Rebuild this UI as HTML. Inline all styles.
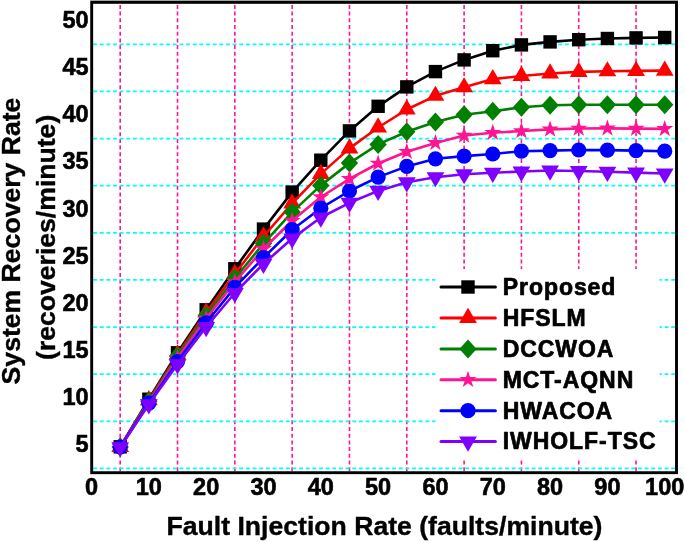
<!DOCTYPE html>
<html lang="en"><head><meta charset="utf-8"><title>System Recovery Rate vs Fault Injection Rate</title>
<style>html,body{margin:0;padding:0;background:#fff}svg{display:block}</style></head>
<body>
<svg width="685" height="542" viewBox="0 0 685 542">
<rect width="685" height="542" fill="#fff"/>
<g stroke="#ff1493" stroke-width="1.6" stroke-dasharray="4 2.7" fill="none">
<path d="M120.2 471.2V4.9"/>
<path d="M177.52 471.2V4.9"/>
<path d="M234.83 471.2V4.9"/>
<path d="M292.15 471.2V4.9"/>
<path d="M349.47 471.2V4.9"/>
<path d="M406.79 471.2V4.9"/>
<path d="M464.11 471.2V4.9"/>
<path d="M521.42 471.2V4.9"/>
<path d="M578.74 471.2V4.9"/>
<path d="M636.06 471.2V4.9"/>
</g>
<g stroke="#00ffff" stroke-width="1.7" stroke-dasharray="3.9 2.745" fill="none">
<path d="M93.1 468.4H675.1"/>
<path d="M93.1 421.28H675.1"/>
<path d="M93.1 374.17H675.1"/>
<path d="M93.1 327.05H675.1"/>
<path d="M93.1 279.94H675.1"/>
<path d="M93.1 232.82H675.1"/>
<path d="M93.1 185.7H675.1"/>
<path d="M93.1 138.59H675.1"/>
<path d="M93.1 91.47H675.1"/>
<path d="M93.1 44.36H675.1"/>
</g>
<rect x="90.2" y="0" width="587.8" height="1" fill="#b4b4b4"/>
<rect x="91.7" y="2.35" width="584.8" height="470.35" fill="none" stroke="#000" stroke-width="2.9"/>
<polyline points="120.2,446.8 148.86,399.2 177.52,352.8 206.18,309.8 234.83,268.8 263.49,229.1 292.15,192.1 320.81,160.2 349.47,130.9 378.13,106.3 406.79,86.9 435.45,71.6 464.11,59.9 492.77,50.7 521.42,44.9 550.08,41.9 578.74,39.7 607.4,38.5 636.06,37.9 664.72,37.5" fill="none" stroke="#000000" stroke-width="2.6" stroke-linejoin="round"/>
<rect x="113.5" y="440.1" width="13.4" height="13.4" fill="#000000"/>
<rect x="142.16" y="392.5" width="13.4" height="13.4" fill="#000000"/>
<rect x="170.82" y="346.1" width="13.4" height="13.4" fill="#000000"/>
<rect x="199.48" y="303.1" width="13.4" height="13.4" fill="#000000"/>
<rect x="228.13" y="262.1" width="13.4" height="13.4" fill="#000000"/>
<rect x="256.79" y="222.4" width="13.4" height="13.4" fill="#000000"/>
<rect x="285.45" y="185.4" width="13.4" height="13.4" fill="#000000"/>
<rect x="314.11" y="153.5" width="13.4" height="13.4" fill="#000000"/>
<rect x="342.77" y="124.2" width="13.4" height="13.4" fill="#000000"/>
<rect x="371.43" y="99.6" width="13.4" height="13.4" fill="#000000"/>
<rect x="400.09" y="80.2" width="13.4" height="13.4" fill="#000000"/>
<rect x="428.75" y="64.9" width="13.4" height="13.4" fill="#000000"/>
<rect x="457.41" y="53.2" width="13.4" height="13.4" fill="#000000"/>
<rect x="486.07" y="44" width="13.4" height="13.4" fill="#000000"/>
<rect x="514.72" y="38.2" width="13.4" height="13.4" fill="#000000"/>
<rect x="543.38" y="35.2" width="13.4" height="13.4" fill="#000000"/>
<rect x="572.04" y="33" width="13.4" height="13.4" fill="#000000"/>
<rect x="600.7" y="31.8" width="13.4" height="13.4" fill="#000000"/>
<rect x="629.36" y="31.2" width="13.4" height="13.4" fill="#000000"/>
<rect x="658.02" y="30.8" width="13.4" height="13.4" fill="#000000"/>
<polyline points="120.2,447 148.86,400.2 177.52,354.5 206.18,312.5 234.83,274 263.49,236.5 292.15,203.4 320.81,173.9 349.47,148.4 378.13,127.5 406.79,109.5 435.45,95.8 464.11,87.3 492.77,79.1 521.42,76 550.08,73.5 578.74,71.9 607.4,71.3 636.06,70.9 664.72,70.6" fill="none" stroke="#ff0000" stroke-width="2.6" stroke-linejoin="round"/>
<polygon points="120.2,436.87 111.3,452.07 129.1,452.07" fill="#ff0000"/>
<polygon points="148.86,390.07 139.96,405.27 157.76,405.27" fill="#ff0000"/>
<polygon points="177.52,344.37 168.62,359.57 186.42,359.57" fill="#ff0000"/>
<polygon points="206.18,302.37 197.28,317.57 215.08,317.57" fill="#ff0000"/>
<polygon points="234.83,263.87 225.93,279.07 243.73,279.07" fill="#ff0000"/>
<polygon points="263.49,226.37 254.59,241.57 272.39,241.57" fill="#ff0000"/>
<polygon points="292.15,193.27 283.25,208.47 301.05,208.47" fill="#ff0000"/>
<polygon points="320.81,163.77 311.91,178.97 329.71,178.97" fill="#ff0000"/>
<polygon points="349.47,138.27 340.57,153.47 358.37,153.47" fill="#ff0000"/>
<polygon points="378.13,117.37 369.23,132.57 387.03,132.57" fill="#ff0000"/>
<polygon points="406.79,99.37 397.89,114.57 415.69,114.57" fill="#ff0000"/>
<polygon points="435.45,85.67 426.55,100.87 444.35,100.87" fill="#ff0000"/>
<polygon points="464.11,77.17 455.21,92.37 473.01,92.37" fill="#ff0000"/>
<polygon points="492.77,68.97 483.87,84.17 501.67,84.17" fill="#ff0000"/>
<polygon points="521.42,65.87 512.52,81.07 530.32,81.07" fill="#ff0000"/>
<polygon points="550.08,63.37 541.18,78.57 558.98,78.57" fill="#ff0000"/>
<polygon points="578.74,61.77 569.84,76.97 587.64,76.97" fill="#ff0000"/>
<polygon points="607.4,61.17 598.5,76.37 616.3,76.37" fill="#ff0000"/>
<polygon points="636.06,60.77 627.16,75.97 644.96,75.97" fill="#ff0000"/>
<polygon points="664.72,60.47 655.82,75.67 673.62,75.67" fill="#ff0000"/>
<polyline points="120.2,447 148.86,401.2 177.52,356 206.18,315.5 234.83,278.5 263.49,243.6 292.15,212.1 320.81,185.4 349.47,163.1 378.13,144.4 406.79,131.7 435.45,122 464.11,114.7 492.77,111.3 521.42,107.2 550.08,105.3 578.74,104.7 607.4,104.7 636.06,104.7 664.72,104.7" fill="none" stroke="#008000" stroke-width="2.6" stroke-linejoin="round"/>
<polygon points="120.2,437.5 128.85,447 120.2,456.5 111.55,447" fill="#008000"/>
<polygon points="148.86,391.7 157.51,401.2 148.86,410.7 140.21,401.2" fill="#008000"/>
<polygon points="177.52,346.5 186.17,356 177.52,365.5 168.87,356" fill="#008000"/>
<polygon points="206.18,306 214.83,315.5 206.18,325 197.53,315.5" fill="#008000"/>
<polygon points="234.83,269 243.48,278.5 234.83,288 226.18,278.5" fill="#008000"/>
<polygon points="263.49,234.1 272.14,243.6 263.49,253.1 254.84,243.6" fill="#008000"/>
<polygon points="292.15,202.6 300.8,212.1 292.15,221.6 283.5,212.1" fill="#008000"/>
<polygon points="320.81,175.9 329.46,185.4 320.81,194.9 312.16,185.4" fill="#008000"/>
<polygon points="349.47,153.6 358.12,163.1 349.47,172.6 340.82,163.1" fill="#008000"/>
<polygon points="378.13,134.9 386.78,144.4 378.13,153.9 369.48,144.4" fill="#008000"/>
<polygon points="406.79,122.2 415.44,131.7 406.79,141.2 398.14,131.7" fill="#008000"/>
<polygon points="435.45,112.5 444.1,122 435.45,131.5 426.8,122" fill="#008000"/>
<polygon points="464.11,105.2 472.76,114.7 464.11,124.2 455.46,114.7" fill="#008000"/>
<polygon points="492.77,101.8 501.42,111.3 492.77,120.8 484.12,111.3" fill="#008000"/>
<polygon points="521.42,97.7 530.07,107.2 521.42,116.7 512.77,107.2" fill="#008000"/>
<polygon points="550.08,95.8 558.73,105.3 550.08,114.8 541.43,105.3" fill="#008000"/>
<polygon points="578.74,95.2 587.39,104.7 578.74,114.2 570.09,104.7" fill="#008000"/>
<polygon points="607.4,95.2 616.05,104.7 607.4,114.2 598.75,104.7" fill="#008000"/>
<polygon points="636.06,95.2 644.71,104.7 636.06,114.2 627.41,104.7" fill="#008000"/>
<polygon points="664.72,95.2 673.37,104.7 664.72,114.2 656.07,104.7" fill="#008000"/>
<polyline points="120.2,447 148.86,402.2 177.52,358 206.18,318.5 234.83,282 263.49,248.8 292.15,220.7 320.81,197 349.47,178.9 378.13,163.5 406.79,151.7 435.45,142.9 464.11,135.5 492.77,132.8 521.42,131 550.08,129.4 578.74,128.5 607.4,128.4 636.06,128.6 664.72,128.9" fill="none" stroke="#ff1493" stroke-width="2.6" stroke-linejoin="round"/>
<polygon points="120.2,438 122.22,444.22 128.76,444.22 123.47,448.06 125.49,454.28 120.2,450.44 114.91,454.28 116.93,448.06 111.64,444.22 118.18,444.22" fill="#ff1493"/>
<polygon points="148.86,393.2 150.88,399.42 157.42,399.42 152.13,403.26 154.15,409.48 148.86,405.64 143.57,409.48 145.59,403.26 140.3,399.42 146.84,399.42" fill="#ff1493"/>
<polygon points="177.52,349 179.54,355.22 186.08,355.22 180.79,359.06 182.81,365.28 177.52,361.44 172.23,365.28 174.25,359.06 168.96,355.22 175.5,355.22" fill="#ff1493"/>
<polygon points="206.18,309.5 208.2,315.72 214.74,315.72 209.45,319.56 211.47,325.78 206.18,321.94 200.89,325.78 202.91,319.56 197.62,315.72 204.16,315.72" fill="#ff1493"/>
<polygon points="234.83,273 236.86,279.22 243.39,279.22 238.1,283.06 240.13,289.28 234.83,285.44 229.54,289.28 231.57,283.06 226.28,279.22 232.81,279.22" fill="#ff1493"/>
<polygon points="263.49,239.8 265.51,246.02 272.05,246.02 266.76,249.86 268.78,256.08 263.49,252.24 258.2,256.08 260.22,249.86 254.93,246.02 261.47,246.02" fill="#ff1493"/>
<polygon points="292.15,211.7 294.17,217.92 300.71,217.92 295.42,221.76 297.44,227.98 292.15,224.14 286.86,227.98 288.88,221.76 283.59,217.92 290.13,217.92" fill="#ff1493"/>
<polygon points="320.81,188 322.83,194.22 329.37,194.22 324.08,198.06 326.1,204.28 320.81,200.44 315.52,204.28 317.54,198.06 312.25,194.22 318.79,194.22" fill="#ff1493"/>
<polygon points="349.47,169.9 351.49,176.12 358.03,176.12 352.74,179.96 354.76,186.18 349.47,182.34 344.18,186.18 346.2,179.96 340.91,176.12 347.45,176.12" fill="#ff1493"/>
<polygon points="378.13,154.5 380.15,160.72 386.69,160.72 381.4,164.56 383.42,170.78 378.13,166.94 372.84,170.78 374.86,164.56 369.57,160.72 376.11,160.72" fill="#ff1493"/>
<polygon points="406.79,142.7 408.81,148.92 415.35,148.92 410.06,152.76 412.08,158.98 406.79,155.14 401.5,158.98 403.52,152.76 398.23,148.92 404.77,148.92" fill="#ff1493"/>
<polygon points="435.45,133.9 437.47,140.12 444.01,140.12 438.72,143.96 440.74,150.18 435.45,146.34 430.16,150.18 432.18,143.96 426.89,140.12 433.43,140.12" fill="#ff1493"/>
<polygon points="464.11,126.5 466.13,132.72 472.67,132.72 467.38,136.56 469.4,142.78 464.11,138.94 458.82,142.78 460.84,136.56 455.55,132.72 462.09,132.72" fill="#ff1493"/>
<polygon points="492.77,123.8 494.79,130.02 501.33,130.02 496.04,133.86 498.06,140.08 492.77,136.24 487.48,140.08 489.5,133.86 484.21,130.02 490.75,130.02" fill="#ff1493"/>
<polygon points="521.42,122 523.45,128.22 529.98,128.22 524.69,132.06 526.72,138.28 521.42,134.44 516.13,138.28 518.16,132.06 512.87,128.22 519.4,128.22" fill="#ff1493"/>
<polygon points="550.08,120.4 552.1,126.62 558.64,126.62 553.35,130.46 555.37,136.68 550.08,132.84 544.79,136.68 546.81,130.46 541.52,126.62 548.06,126.62" fill="#ff1493"/>
<polygon points="578.74,119.5 580.76,125.72 587.3,125.72 582.01,129.56 584.03,135.78 578.74,131.94 573.45,135.78 575.47,129.56 570.18,125.72 576.72,125.72" fill="#ff1493"/>
<polygon points="607.4,119.4 609.42,125.62 615.96,125.62 610.67,129.46 612.69,135.68 607.4,131.84 602.11,135.68 604.13,129.46 598.84,125.62 605.38,125.62" fill="#ff1493"/>
<polygon points="636.06,119.6 638.08,125.82 644.62,125.82 639.33,129.66 641.35,135.88 636.06,132.04 630.77,135.88 632.79,129.66 627.5,125.82 634.04,125.82" fill="#ff1493"/>
<polygon points="664.72,119.9 666.74,126.12 673.28,126.12 667.99,129.96 670.01,136.18 664.72,132.34 659.43,136.18 661.45,129.96 656.16,126.12 662.7,126.12" fill="#ff1493"/>
<polyline points="120.2,447 148.86,403.2 177.52,361.6 206.18,322.8 234.83,287.4 263.49,257.7 292.15,229.7 320.81,208.2 349.47,191 378.13,177.1 406.79,166.4 435.45,158.8 464.11,156.1 492.77,154 521.42,151.2 550.08,150.6 578.74,150 607.4,150.1 636.06,150.6 664.72,151.2" fill="none" stroke="#0000ff" stroke-width="2.6" stroke-linejoin="round"/>
<circle cx="120.2" cy="447" r="7.6" fill="#0000ff"/>
<circle cx="148.86" cy="403.2" r="7.6" fill="#0000ff"/>
<circle cx="177.52" cy="361.6" r="7.6" fill="#0000ff"/>
<circle cx="206.18" cy="322.8" r="7.6" fill="#0000ff"/>
<circle cx="234.83" cy="287.4" r="7.6" fill="#0000ff"/>
<circle cx="263.49" cy="257.7" r="7.6" fill="#0000ff"/>
<circle cx="292.15" cy="229.7" r="7.6" fill="#0000ff"/>
<circle cx="320.81" cy="208.2" r="7.6" fill="#0000ff"/>
<circle cx="349.47" cy="191" r="7.6" fill="#0000ff"/>
<circle cx="378.13" cy="177.1" r="7.6" fill="#0000ff"/>
<circle cx="406.79" cy="166.4" r="7.6" fill="#0000ff"/>
<circle cx="435.45" cy="158.8" r="7.6" fill="#0000ff"/>
<circle cx="464.11" cy="156.1" r="7.6" fill="#0000ff"/>
<circle cx="492.77" cy="154" r="7.6" fill="#0000ff"/>
<circle cx="521.42" cy="151.2" r="7.6" fill="#0000ff"/>
<circle cx="550.08" cy="150.6" r="7.6" fill="#0000ff"/>
<circle cx="578.74" cy="150" r="7.6" fill="#0000ff"/>
<circle cx="607.4" cy="150.1" r="7.6" fill="#0000ff"/>
<circle cx="636.06" cy="150.6" r="7.6" fill="#0000ff"/>
<circle cx="664.72" cy="151.2" r="7.6" fill="#0000ff"/>
<polyline points="120.2,447.2 148.86,404.3 177.52,364.3 206.18,327 234.83,293 263.49,263.8 292.15,238.6 320.81,217.5 349.47,202.8 378.13,190.9 406.79,182.3 435.45,177.2 464.11,174.2 492.77,172.8 521.42,171.5 550.08,170.5 578.74,171 607.4,171.8 636.06,172.6 664.72,173.5" fill="none" stroke="#8000ff" stroke-width="2.6" stroke-linejoin="round"/>
<polygon points="120.2,457.33 111.3,442.13 129.1,442.13" fill="#8000ff"/>
<polygon points="148.86,414.43 139.96,399.23 157.76,399.23" fill="#8000ff"/>
<polygon points="177.52,374.43 168.62,359.23 186.42,359.23" fill="#8000ff"/>
<polygon points="206.18,337.13 197.28,321.93 215.08,321.93" fill="#8000ff"/>
<polygon points="234.83,303.13 225.93,287.93 243.73,287.93" fill="#8000ff"/>
<polygon points="263.49,273.93 254.59,258.73 272.39,258.73" fill="#8000ff"/>
<polygon points="292.15,248.73 283.25,233.53 301.05,233.53" fill="#8000ff"/>
<polygon points="320.81,227.63 311.91,212.43 329.71,212.43" fill="#8000ff"/>
<polygon points="349.47,212.93 340.57,197.73 358.37,197.73" fill="#8000ff"/>
<polygon points="378.13,201.03 369.23,185.83 387.03,185.83" fill="#8000ff"/>
<polygon points="406.79,192.43 397.89,177.23 415.69,177.23" fill="#8000ff"/>
<polygon points="435.45,187.33 426.55,172.13 444.35,172.13" fill="#8000ff"/>
<polygon points="464.11,184.33 455.21,169.13 473.01,169.13" fill="#8000ff"/>
<polygon points="492.77,182.93 483.87,167.73 501.67,167.73" fill="#8000ff"/>
<polygon points="521.42,181.63 512.52,166.43 530.32,166.43" fill="#8000ff"/>
<polygon points="550.08,180.63 541.18,165.43 558.98,165.43" fill="#8000ff"/>
<polygon points="578.74,181.13 569.84,165.93 587.64,165.93" fill="#8000ff"/>
<polygon points="607.4,181.93 598.5,166.73 616.3,166.73" fill="#8000ff"/>
<polygon points="636.06,182.73 627.16,167.53 644.96,167.53" fill="#8000ff"/>
<polygon points="664.72,183.63 655.82,168.43 673.62,168.43" fill="#8000ff"/>
<rect x="435.5" y="269" width="224" height="189" fill="#fff"/>
<path d="M441 287H495.4" stroke="#000000" stroke-width="3" stroke-linecap="round"/>
<rect x="461.3" y="280.3" width="13.4" height="13.4" fill="#000000"/>
<path d="M441 317.9H495.4" stroke="#ff0000" stroke-width="3" stroke-linecap="round"/>
<polygon points="468,307.77 459.1,322.97 476.9,322.97" fill="#ff0000"/>
<path d="M441 348.9H495.4" stroke="#008000" stroke-width="3" stroke-linecap="round"/>
<polygon points="468,339.4 476.65,348.9 468,358.4 459.35,348.9" fill="#008000"/>
<path d="M441 379.8H495.4" stroke="#ff1493" stroke-width="3" stroke-linecap="round"/>
<polygon points="468,370.8 470.02,377.02 476.56,377.02 471.27,380.86 473.29,387.08 468,383.24 462.71,387.08 464.73,380.86 459.44,377.02 465.98,377.02" fill="#ff1493"/>
<path d="M441 410.7H495.4" stroke="#0000ff" stroke-width="3" stroke-linecap="round"/>
<circle cx="468" cy="410.7" r="7.6" fill="#0000ff"/>
<path d="M441 441.6H495.4" stroke="#8000ff" stroke-width="3" stroke-linecap="round"/>
<polygon points="468,451.73 459.1,436.53 476.9,436.53" fill="#8000ff"/>
<g font-family="'Liberation Sans', sans-serif" font-weight="bold" font-size="23px" letter-spacing="0.95" fill="#000" stroke="#000" stroke-width="0.7" stroke-linejoin="round">
<text x="502.7" y="294.8">Proposed</text>
<text x="502.7" y="325.7">HFSLM</text>
<text x="502.7" y="356.7">DCCWOA</text>
<text x="502.7" y="387.6">MCT-AQNN</text>
<text x="502.7" y="418.5">HWACOA</text>
<text x="502.7" y="449.4">IWHOLF-TSC</text>
</g>
<g font-family="'Liberation Sans', sans-serif" font-weight="bold" font-size="23.5px" fill="#000" stroke="#000" stroke-width="0.6" stroke-linejoin="round">
<text x="91.54" y="494.8" text-anchor="middle">0</text>
<text x="148.86" y="494.8" text-anchor="middle">10</text>
<text x="206.18" y="494.8" text-anchor="middle">20</text>
<text x="263.49" y="494.8" text-anchor="middle">30</text>
<text x="320.81" y="494.8" text-anchor="middle">40</text>
<text x="378.13" y="494.8" text-anchor="middle">50</text>
<text x="435.45" y="494.8" text-anchor="middle">60</text>
<text x="492.77" y="494.8" text-anchor="middle">70</text>
<text x="550.08" y="494.8" text-anchor="middle">80</text>
<text x="607.4" y="494.8" text-anchor="middle">90</text>
<text x="664.72" y="494.8" text-anchor="middle">100</text>
<text x="88.7" y="452.14" text-anchor="end">5</text>
<text x="88.7" y="405.03" text-anchor="end">10</text>
<text x="88.7" y="357.91" text-anchor="end">15</text>
<text x="88.7" y="310.79" text-anchor="end">20</text>
<text x="88.7" y="263.68" text-anchor="end">25</text>
<text x="88.7" y="216.56" text-anchor="end">30</text>
<text x="88.7" y="169.45" text-anchor="end">35</text>
<text x="88.7" y="122.33" text-anchor="end">40</text>
<text x="88.7" y="75.21" text-anchor="end">45</text>
<text x="88.7" y="28.1" text-anchor="end">50</text>
</g>
<g font-family="'Liberation Sans', sans-serif" font-weight="bold" font-size="26.6px" fill="#000" stroke="#000" stroke-width="0.4" stroke-linejoin="round" text-anchor="middle">
<text x="384.5" y="534.8">Fault Injection Rate (faults/minute)</text>
<text transform="translate(20.1 241) rotate(-90)">System Recovery Rate</text>
<text transform="translate(54.9 237.4) rotate(-90)">(recoveries/minute)</text>
</g>
</svg>
</body></html>
